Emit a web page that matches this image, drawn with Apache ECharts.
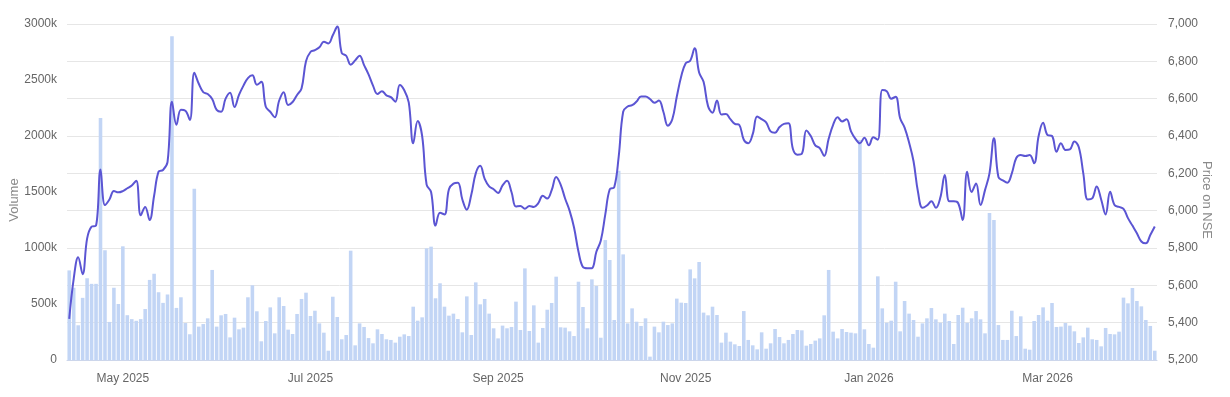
<!DOCTYPE html>
<html>
<head>
<meta charset="utf-8">
<title>Volume and price on NSE</title>
<script src="https://cdn.jsdelivr.net/npm/echarts@6/dist/echarts.min.js"></script>
<style>
  html, body { margin: 0; padding: 0; background: #ffffff; }
  #chart { width: 1230px; height: 397px; }
</style>
</head>
<body>
<div id="chart"></div>
<script>
// trading calendar: weekdays from START, minus exchange holidays
const START = '2025-04-11';
const HOLIDAYS = ['2025-04-14', '2025-04-18', '2025-05-01', '2025-08-15', '2025-08-27',
    '2025-10-02', '2025-10-21', '2025-10-22', '2025-11-05', '2025-12-25',
    '2026-01-15', '2026-01-26', '2026-03-03', '2026-03-26', '2026-03-31', '2026-04-03'];
const MONTHS = ['Jan', 'Feb', 'Mar', 'Apr', 'May', 'Jun', 'Jul', 'Aug', 'Sep', 'Oct', 'Nov', 'Dec'];

// daily volume, thousands of shares
const volume = [
    800, 645, 310, 555, 730, 680, 680, 2160, 980, 340, 645, 500, 1015, 400, 365, 350, 365, 455, 715, 770,
    605, 510, 585, 2890, 465, 560, 330, 230, 1530, 298, 321, 372, 804, 298, 399, 411, 202, 378, 274, 289,
    560, 667, 435, 167, 348, 470, 238, 560, 482, 271, 232, 411, 545, 601, 393, 440, 327, 244, 83, 565,
    384, 185, 223, 976, 131, 327, 295, 196, 149, 274, 232, 185, 179, 155, 208, 229, 214, 476, 351, 381,
    997, 1012, 551, 685, 476, 396, 414, 366, 247, 568, 223, 693, 497, 545, 414, 283, 193, 307, 283, 295,
    521, 268, 818, 259, 488, 155, 286, 449, 509, 744, 292, 289, 256, 214, 699, 473, 283, 720, 661, 199,
    1071, 893, 357, 1690, 943, 327, 461, 342, 304, 372, 30, 298, 247, 342, 312, 327, 548, 512, 509, 809,
    729, 875, 423, 399, 476, 402, 155, 244, 164, 140, 125, 437, 179, 131, 95, 247, 101, 149, 277, 205,
    149, 179, 232, 268, 265, 128, 143, 173, 193, 399, 804, 253, 193, 277, 250, 244, 238, 1965, 274, 143,
    110, 747, 461, 333, 351, 699, 256, 527, 414, 357, 208, 327, 372, 464, 363, 333, 414, 348, 143, 402,
    467, 333, 372, 437, 363, 238, 1313, 1250, 312, 179, 179, 440, 214, 390, 101, 92, 348, 402, 470, 351,
    509, 295, 298, 330, 307, 256, 152, 202, 289, 185, 179, 122, 286, 232, 229, 253, 557, 506, 643, 527,
    479, 357, 304, 83
];

// closing price on NSE
const price = [
    5420, 5635, 5750, 5660, 5850, 5914, 5920, 6220, 6030, 6060, 6105, 6098, 6105, 6120, 6135, 6160, 5975, 6020, 5950, 6080,
    6209, 6218, 6260, 6584, 6460, 6540, 6535, 6486, 6739, 6680, 6635, 6625, 6598, 6540, 6530, 6600, 6632, 6555, 6620, 6670,
    6710, 6725, 6675, 6690, 6557, 6530, 6500, 6590, 6635, 6566, 6582, 6620, 6655, 6800, 6850, 6860, 6875, 6905, 6896, 6940,
    6986, 6845, 6830, 6782, 6805, 6830, 6780, 6730, 6670, 6625, 6640, 6618, 6608, 6584, 6673, 6645, 6580, 6361, 6480, 6400,
    6140, 6100, 5920, 5989, 5980, 6115, 6145, 6150, 6060, 6005, 6085, 6200, 6240, 6170, 6130, 6115, 6095, 6135, 6160, 6100,
    6022, 6025, 6010, 6025, 6020, 6040, 6080, 6065, 6110, 6180, 6140, 6065, 6000, 5910, 5780, 5698, 5691, 5692, 5780, 5840,
    5980, 6115, 6125, 6290, 6530, 6558, 6565, 6585, 6612, 6612, 6598, 6578, 6590, 6530, 6455, 6490, 6610, 6720, 6790, 6803,
    6870, 6740, 6690, 6560, 6525, 6590, 6515, 6518, 6490, 6465, 6459, 6380, 6361, 6410, 6505, 6490, 6473, 6425, 6418, 6448,
    6465, 6468, 6330, 6300, 6305, 6430, 6400, 6350, 6335, 6293, 6385, 6460, 6500, 6478, 6490, 6425, 6385, 6361, 6390, 6350,
    6393, 6380, 6646, 6640, 6600, 6610, 6495, 6445, 6365, 6265, 6100, 6015, 6028, 6050, 6015, 6070, 6191, 6050, 6050, 6040,
    5950, 6209, 6100, 6146, 6030, 6110, 6200, 6388, 6180, 6162, 6150, 6200, 6282, 6298, 6293, 6298, 6254, 6400, 6471, 6405,
    6400, 6316, 6361, 6325, 6328, 6370, 6340, 6200, 6060, 6066, 6130, 6060, 5980, 6102, 6030, 6020, 6010, 5960, 5920, 5879,
    5835, 5825, 5870, 5915
];

const dates = [];
let d = new Date(START + 'T00:00:00Z');
while (dates.length < volume.length) {
    const s = d.toISOString().slice(0, 10);
    const wd = d.getUTCDay();
    if (wd !== 0 && wd !== 6 && HOLIDAYS.indexOf(s) < 0) dates.push(s);
    d.setUTCDate(d.getUTCDate() + 1);
}

// label the first trading day of Jan, Mar, May, Jul, Sep, Nov
function isLabelDay(idx) {
    if (idx === 0) return false;
    const m = +dates[idx].slice(5, 7);
    return m !== +dates[idx - 1].slice(5, 7) && m % 2 === 1;
}

const chart = echarts.init(document.getElementById('chart'), null, { renderer: 'canvas' });

const font = 'Liberation Sans, Arial, sans-serif';

const option = {
    backgroundColor: '#ffffff',
    animation: false,
    grid: {
        left: 67,
        right: 73,
        top: 24,
        bottom: 37,
        containLabel: false,
        outerBoundsMode: 'none'
    },
    xAxis: {
        type: 'category',
        data: dates,
        boundaryGap: true,
        axisLine: { lineStyle: { color: '#ccd6eb', width: 1 } },
        axisTick: {
            alignWithLabel: true,
            length: 9,
            interval: isLabelDay,
            lineStyle: { color: '#ccd6eb' }
        },
        axisLabel: {
            interval: isLabelDay,
            margin: 13,
            color: '#666666',
            fontSize: 12,
            fontFamily: font,
            formatter: function (v) {
                return MONTHS[+v.slice(5, 7) - 1] + ' ' + v.slice(0, 4);
            }
        },
        splitLine: { show: false }
    },
    yAxis: [{
        type: 'value',
        name: 'Volume',
        nameLocation: 'middle',
        nameRotate: 90,
        nameGap: 46,
        nameMoveOverlap: false,
        nameTextStyle: { color: '#8a8a8a', fontSize: 13, fontFamily: font, padding: [0, 16, 0, 0] },
        min: 0,
        max: 3000,
        interval: 500,
        axisLine: { show: false },
        axisTick: { show: false },
        splitLine: { show: false },
        axisLabel: {
            margin: 10,
            color: '#666666',
            fontSize: 12,
            fontFamily: font,
            formatter: function (v) { return v === 0 ? '0' : v + 'k'; }
        }
    }, {
        type: 'value',
        name: 'Price on NSE',
        nameLocation: 'middle',
        nameRotate: -90,
        nameGap: 43,
        nameMoveOverlap: false,
        nameTextStyle: { color: '#8a8a8a', fontSize: 13, fontFamily: font, padding: [0, 0, 0, 16] },
        position: 'right',
        min: 5200,
        max: 7000,
        interval: 200,
        axisLine: { show: false },
        axisTick: { show: false },
        splitLine: { lineStyle: { color: '#e6e6e6', width: 1 } },
        axisLabel: {
            margin: 11,
            color: '#666666',
            fontSize: 12,
            fontFamily: font,
            formatter: function (v) { return v.toLocaleString('en-US'); }
        }
    }],
    series: [{
        name: 'Volume',
        type: 'bar',
        yAxisIndex: 0,
        data: volume,
        barCategoryGap: '20%',
        itemStyle: { color: '#c2d5f5' },
        z: 1
    }, {
        name: 'Price on NSE',
        type: 'line',
        yAxisIndex: 1,
        data: price,
        smooth: 0.4,
        showSymbol: false,
        lineStyle: { color: '#5b55d3', width: 2 },
        z: 2
    }]
};

chart.setOption(option);
</script>
</body>
</html>
